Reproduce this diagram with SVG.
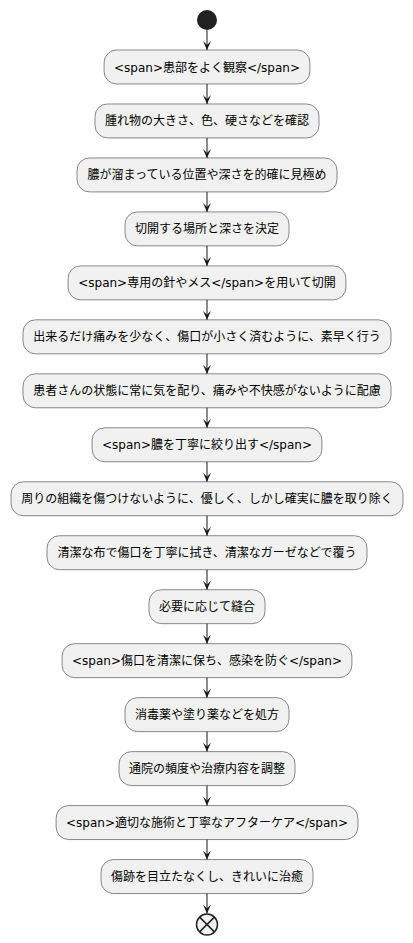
<svg xmlns="http://www.w3.org/2000/svg" width="413" height="943" viewBox="0 0 413 943">
<style>
.box{fill:#F1F1F1;stroke:#181818;stroke-width:0.5}
.lbl{font-family:"DejaVu Sans","Noto Sans CJK JP",sans-serif;font-size:12px;fill:#000000;text-anchor:middle}
.edge{stroke:#181818;stroke-width:1;fill:none;marker-end:url(#ah)}
</style>
<defs>
<marker id="ah" markerUnits="userSpaceOnUse" viewBox="0 0 9 8" refX="9" refY="4" markerWidth="9" markerHeight="8" orient="auto">
<path d="M0,0 L9,4 L0,8 L4,4 Z" fill="#181818"/>
</marker>
</defs>
<g id="start"><circle cx="207" cy="20" r="10" fill="#222222"/></g>
<g id="n1"><rect class="box" x="104.1" y="50" width="205.8" height="33.97" rx="12.5"/><text class="lbl" x="207" y="71.5">&lt;span&gt;患部をよく観察&lt;/span&gt;</text></g>
<g id="n2"><rect class="box" x="95" y="103.97" width="224" height="33.97" rx="12.5"/><text class="lbl" x="207" y="125.47">腫れ物の大きさ、色、硬さなどを確認</text></g>
<g id="n3"><rect class="box" x="77" y="157.94" width="260" height="33.97" rx="12.5"/><text class="lbl" x="207" y="179.44">膿が溜まっている位置や深さを的確に見極め</text></g>
<g id="n4"><rect class="box" x="125" y="211.91" width="164" height="33.97" rx="12.5"/><text class="lbl" x="207" y="233.41">切開する場所と深さを決定</text></g>
<g id="n5"><rect class="box" x="68.1" y="265.88" width="277.8" height="33.97" rx="12.5"/><text class="lbl" x="207" y="287.38">&lt;span&gt;専用の針やメス&lt;/span&gt;を用いて切開</text></g>
<g id="n6"><rect class="box" x="23" y="319.85" width="368" height="33.97" rx="12.5"/><text class="lbl" x="207" y="341.35">出来るだけ痛みを少なく、傷口が小さく済むように、素早く行う</text></g>
<g id="n7"><rect class="box" x="23" y="373.82" width="368" height="33.97" rx="12.5"/><text class="lbl" x="207" y="395.32">患者さんの状態に常に気を配り、痛みや不快感がないように配慮</text></g>
<g id="n8"><rect class="box" x="92.1" y="427.79" width="229.8" height="33.97" rx="12.5"/><text class="lbl" x="207" y="449.29">&lt;span&gt;膿を丁寧に絞り出す&lt;/span&gt;</text></g>
<g id="n9"><rect class="box" x="11" y="481.76" width="392" height="33.97" rx="12.5"/><text class="lbl" x="207" y="503.26">周りの組織を傷つけないように、優しく、しかし確実に膿を取り除く</text></g>
<g id="n10"><rect class="box" x="47" y="535.73" width="320" height="33.97" rx="12.5"/><text class="lbl" x="207" y="557.23">清潔な布で傷口を丁寧に拭き、清潔なガーゼなどで覆う</text></g>
<g id="n11"><rect class="box" x="149" y="589.7" width="116" height="33.97" rx="12.5"/><text class="lbl" x="207" y="611.2">必要に応じて縫合</text></g>
<g id="n12"><rect class="box" x="62.1" y="643.67" width="289.8" height="33.97" rx="12.5"/><text class="lbl" x="207" y="665.17">&lt;span&gt;傷口を清潔に保ち、感染を防ぐ&lt;/span&gt;</text></g>
<g id="n13"><rect class="box" x="125" y="697.64" width="164" height="33.97" rx="12.5"/><text class="lbl" x="207" y="719.14">消毒薬や塗り薬などを処方</text></g>
<g id="n14"><rect class="box" x="119" y="751.61" width="176" height="33.97" rx="12.5"/><text class="lbl" x="207" y="773.11">通院の頻度や治療内容を調整</text></g>
<g id="n15"><rect class="box" x="56.1" y="805.58" width="301.8" height="33.97" rx="12.5"/><text class="lbl" x="207" y="827.08">&lt;span&gt;適切な施術と丁寧なアフターケア&lt;/span&gt;</text></g>
<g id="n16"><rect class="box" x="101" y="859.55" width="212" height="33.97" rx="12.5"/><text class="lbl" x="207" y="881.05">傷跡を目立たなくし、きれいに治癒</text></g>
<g id="end"><circle cx="207" cy="924.52" r="10.5" fill="#F1F1F1" stroke="#222222" stroke-width="1.5"/><path d="M199.6,917.1 L214.4,931.9 M214.4,917.1 L199.6,931.9" stroke="#222222" stroke-width="1.5"/></g>
<g id="connectors">
<line class="edge" x1="207" y1="30" x2="207" y2="50"/>
<line class="edge" x1="207" y1="83.97" x2="207" y2="103.97"/>
<line class="edge" x1="207" y1="137.94" x2="207" y2="157.94"/>
<line class="edge" x1="207" y1="191.91" x2="207" y2="211.91"/>
<line class="edge" x1="207" y1="245.88" x2="207" y2="265.88"/>
<line class="edge" x1="207" y1="299.85" x2="207" y2="319.85"/>
<line class="edge" x1="207" y1="353.82" x2="207" y2="373.82"/>
<line class="edge" x1="207" y1="407.79" x2="207" y2="427.79"/>
<line class="edge" x1="207" y1="461.76" x2="207" y2="481.76"/>
<line class="edge" x1="207" y1="515.73" x2="207" y2="535.73"/>
<line class="edge" x1="207" y1="569.7" x2="207" y2="589.7"/>
<line class="edge" x1="207" y1="623.67" x2="207" y2="643.67"/>
<line class="edge" x1="207" y1="677.64" x2="207" y2="697.64"/>
<line class="edge" x1="207" y1="731.61" x2="207" y2="751.61"/>
<line class="edge" x1="207" y1="785.58" x2="207" y2="805.58"/>
<line class="edge" x1="207" y1="839.55" x2="207" y2="859.55"/>
<line class="edge" x1="207" y1="893.52" x2="207" y2="913.52"/>
</g>
</svg>
